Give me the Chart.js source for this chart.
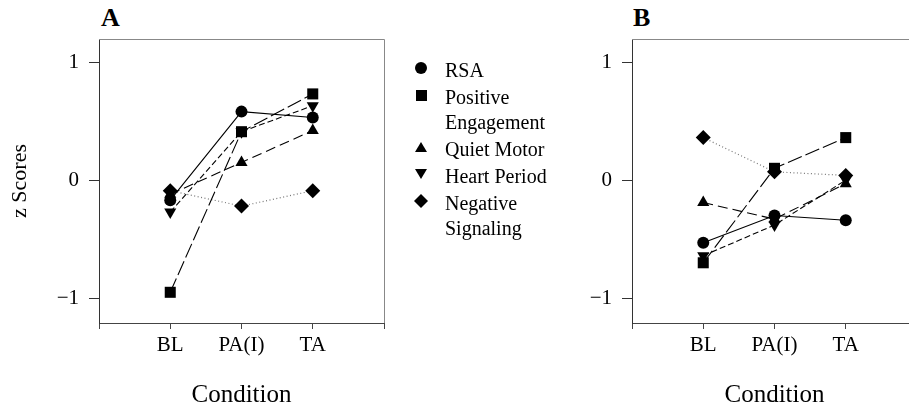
<!DOCTYPE html>
<html lang="en">
<head>
  <meta charset="UTF-8" />
  <title>z Scores by Condition</title>
  <script src="https://cdn.jsdelivr.net/npm/chart.js"></script>
  <style>
    body {
      margin: 0;
      width: 909px;
      height: 408px;
      overflow: hidden;
      position: relative;
      background: #fff;
      font-family: 'Liberation Serif', 'Times New Roman', serif;
      color: #000;
    }
    .wrap { position: absolute; top: 0; height: 408px; }
    #wrapA { left: 0; width: 400px; }
    #wrapB { left: 540px; width: 400px; }
    .panel-label {
      position: absolute;
      top: 3px;
      font-weight: bold;
      font-size: 26px;
    }
    #legend {
      position: absolute;
      left: 410px;
      top: 58px;
      font-size: 20px;
      line-height: 25px;
    }
    .entry {
      position: relative;
      padding-left: 35px;
      margin-bottom: 2px;
      white-space: pre-line;
    }
    .marker {
      position: absolute;
      background: #000;
    }
  </style>
</head>
<body>

  <div class="panel-label" style="left:101px">A</div>
  <div class="panel-label" style="left:633px">B</div>

  <div id="wrapA" class="wrap"><canvas id="chartA"></canvas></div>
  <div id="wrapB" class="wrap"><canvas id="chartB"></canvas></div>

  <div id="legend"></div>

  <script>
    // data
    const conditions = ['BL', 'PA(I)', 'TA'];
    const seriesNames = ['RSA', 'Positive\nEngagement', 'Quiet Motor', 'Heart Period', 'Negative\nSignaling'];

    // panel A
    const rsaA         = [-0.17, 0.58, 0.53];
    const posEngageA   = [-0.95, 0.41, 0.73];
    const quietMotorA  = [-0.12, 0.15, 0.42];
    const heartPeriodA = [-0.27, 0.41, 0.63];
    const negSignalA   = [-0.09, -0.22, -0.09];

    // panel B
    const rsaB         = [-0.53, -0.30, -0.34];
    const posEngageB   = [-0.70, 0.10, 0.36];
    const quietMotorB  = [-0.19, -0.33, -0.03];
    const heartPeriodB = [-0.64, -0.38, 0.00];
    const negSignalB   = [0.36, 0.07, 0.04];

    const yTicks = [-1, 0, 1];

    const styles = [
      { point: 'circle',   radius: 6,   rot: 0,   dash: [],       color: '#000', width: 1.1 },
      { point: 'rect',     radius: 7.8, rot: 0,   dash: [15, 4],  color: '#000', width: 1.1 },
      { point: 'triangle', radius: 7,   rot: 0,   dash: [10, 5],  color: '#000', width: 1.1 },
      { point: 'triangle', radius: 7,   rot: 180, dash: [6, 3],   color: '#000', width: 1.1 },
      { point: 'rectRot',  radius: 7.5, rot: 0,   dash: [1, 2.5], color: '#777', width: 1.2 }
    ];

    const font = 'Liberation Serif';

    function makeDatasets(series) {
      return series.map((vals, i) => ({
        label: seriesNames[i].replace('\n', ' '),
        data: vals.map((v, k) => ({ x: k + 1, y: v })),
        borderColor: styles[i].color,
        borderWidth: styles[i].width,
        borderDash: styles[i].dash,
        backgroundColor: '#000',
        pointBackgroundColor: '#000',
        pointBorderColor: '#000',
        pointBorderWidth: 0,
        pointStyle: styles[i].point,
        pointRadius: styles[i].radius,
        pointRotation: styles[i].rot,
        tension: 0,
        fill: false
      }));
    }

    // grey top/right frame around the plot
    const frame = {
      id: 'frame',
      beforeDatasetsDraw(chart) {
        const { ctx, chartArea: a } = chart;
        ctx.save();
        ctx.strokeStyle = '#888';
        ctx.lineWidth = 1;
        ctx.beginPath();
        ctx.moveTo(a.left, a.top + 0.5);
        ctx.lineTo(a.right + 0.5, a.top + 0.5);
        ctx.lineTo(a.right + 0.5, a.bottom);
        ctx.stroke();
        ctx.restore();
      }
    };

    function makeChart(id, series, yWidth, rightPad, showTitle) {
      return new Chart(document.getElementById(id), {
        type: 'line',
        data: { datasets: makeDatasets(series) },
        plugins: [frame],
        options: {
          responsive: true,
          maintainAspectRatio: false,
          animation: false,
          layout: { padding: { top: 39, right: rightPad, bottom: 0, left: 0 } },
          plugins: { legend: { display: false }, tooltip: { enabled: false } },
          scales: {
            x: {
              type: 'linear',
              min: 0,
              max: 4,
              afterFit(scale) { scale.height = 85; },
              afterBuildTicks(scale) { scale.ticks = [0, 1, 2, 3, 4].map(v => ({ value: v })); },
              ticks: {
                autoSkip: false,
                maxRotation: 0,
                padding: 4,
                color: '#000',
                font: { family: font, size: 21 },
                callback: v => conditions[v - 1] || ''
              },
              grid: { drawOnChartArea: false, drawTicks: true, tickLength: 6, color: '#444' },
              border: { display: true, color: '#444', width: 1 },
              title: {
                display: true,
                text: 'Condition',
                color: '#000',
                padding: { top: 0, bottom: 0 },
                font: { family: font, size: 25, lineHeight: 1 }
              }
            },
            y: {
              type: 'linear',
              min: -1.21,
              max: 1.195,
              afterFit(scale) { scale.width = yWidth; },
              afterBuildTicks(scale) { scale.ticks = yTicks.map(v => ({ value: v })); },
              ticks: {
                padding: 10,
                color: '#000',
                font: { family: font, size: 21 },
                callback: v => (v < 0 ? '\u2212' + Math.abs(v) : String(v))
              },
              grid: { drawOnChartArea: false, drawTicks: true, tickLength: 10, color: '#333' },
              border: { display: true, color: '#333', width: 1 },
              title: {
                display: showTitle,
                text: 'z Scores',
                color: '#000',
                padding: { top: 7, bottom: 0 },
                font: { family: font, size: 22 }
              }
            }
          }
        }
      });
    }

    makeChart('chartA', [rsaA, posEngageA, quietMotorA, heartPeriodA, negSignalA], 99, 16, true);
    makeChart('chartB', [rsaB, posEngageB, quietMotorB, heartPeriodB, negSignalB], 92, 23, false);

    // legend between the two panels
    const shapes = {
      circle:   { w: 12, h: 12, css: 'border-radius:50%' },
      rect:     { w: 11, h: 11, css: '' },
      triangle: { w: 12, h: 10, css: 'clip-path:polygon(50% 0,100% 100%,0 100%)' },
      down:     { w: 12, h: 10, css: 'clip-path:polygon(0 0,100% 0,50% 100%)' },
      rectRot:  { w: 14, h: 14, css: 'clip-path:polygon(50% 0,100% 50%,50% 100%,0 50%)' }
    };
    const legend = document.getElementById('legend');
    seriesNames.forEach((name, i) => {
      const key = styles[i].rot === 180 ? 'down' : styles[i].point;
      const s = shapes[key];
      const entry = document.createElement('div');
      entry.className = 'entry';
      entry.textContent = name;
      const m = document.createElement('span');
      m.className = 'marker';
      m.style.cssText = `left:${11 - s.w / 2}px;top:${10 - s.h / 2}px;width:${s.w}px;height:${s.h}px;${s.css}`;
      entry.appendChild(m);
      legend.appendChild(entry);
    });
  </script>
</body>
</html>
